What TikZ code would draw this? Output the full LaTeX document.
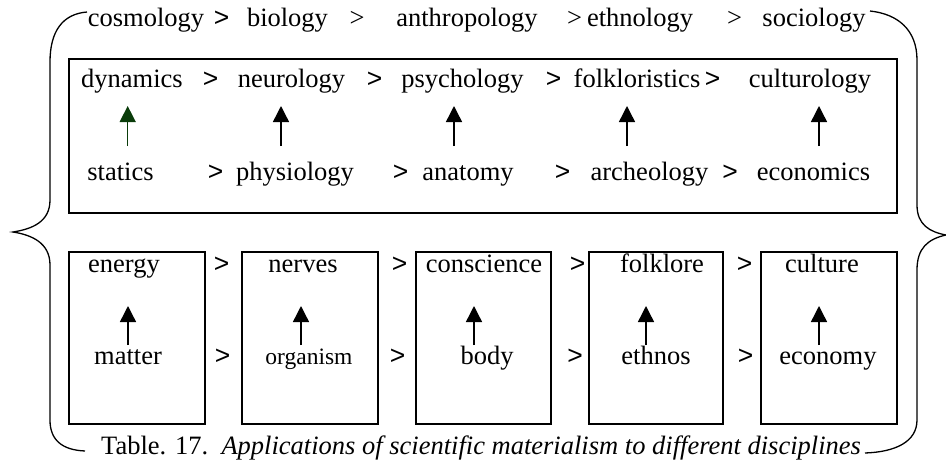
\documentclass[tikz,border=0pt]{standalone}
\usepackage{fontspec}
\setmainfont{Liberation Serif}
\newfontfamily\arialfont{Liberation Sans}
\usetikzlibrary{arrows.meta}
\definecolor{darkgreen}{RGB}{10,60,10}
\begin{document}
\begin{tikzpicture}[x=1pt,y=-1pt,
  every node/.style={font=\fontsize{26.5}{30}\selectfont, inner sep=0pt, anchor=base},
  gta/.style={font=\fontsize{26.5}{30}\selectfont\arialfont},
  smalltxt/.style={font=\fontsize{23.5}{28}\selectfont},
  uparrow/.style={line width=1.4pt, -{Triangle[width=16pt,length=16pt]}},
  boxline/.style={draw, line width=1.5pt},
  brace/.style={line width=1.3pt}]
\useasboundingbox (0,0) rectangle (946,461);

% braces
\draw[brace] (87,12) .. controls (62,14) and (50,32) .. (50,62) -- (50,200)
  .. controls (50,222) and (32,229) .. (13,232)
  .. controls (32,235) and (50,243) .. (50,265) -- (50,420)
  .. controls (50,440) and (62,450) .. (85,451);
\draw[brace] (870,11) .. controls (898,14) and (917,30) .. (917,60) -- (917,205)
  .. controls (917,225) and (930,232) .. (946,235)
  .. controls (928,239) and (917,248) .. (917,270) -- (917,420)
  .. controls (917,442) and (895,452) .. (865,453);

% top row
\node (cosm) at (146,26) {cosmology};
\node[gta] (t1) at (221.5,26) {>};
\node (biol) at (287.5,26) {biology};
\node (t2) at (357,26) {>};
\node (anth) at (467,26) {anthropology};
\node (t3) at (574.5,26) {>};
\node (ethn) at (640,26) {ethnology};
\node (t4) at (734.5,26) {>};
\node (soci) at (814,26) {sociology};

% top box
\draw[boxline, line width=1.8pt] (69,59) rectangle (897,213);
\node (dyn) at (132,87) {dynamics};
\node[gta] (m1) at (210.5,87) {>};
\node (neur) at (291.5,87) {neurology};
\node[gta] (m2) at (374.5,87) {>};
\node (psyc) at (462.5,87) {psychology};
\node[gta] (m3) at (553.5,87) {>};
\node (folk) at (637,87) {folkloristics};
\node[gta] (m4) at (712.5,87) {>};
\node (cult) at (810,87) {culturology};

\node (stat) at (120.5,180) {statics};
\node[gta] (n1) at (215.5,180) {>};
\node (phys) at (295,180) {physiology};
\node[gta] (n2) at (400.5,180) {>};
\node (anat) at (468,180) {anatomy};
\node[gta] (n3) at (562.5,180) {>};
\node (arch) at (649.5,180) {archeology};
\node[gta] (n4) at (730,180) {>};
\node (econ) at (813.5,180) {economics};

\coordinate (a1s) at (127.7,146); \coordinate (a1e) at (127.7,106);
\coordinate (a2s) at (281,146);   \coordinate (a2e) at (281,106);
\coordinate (a3s) at (454,146);   \coordinate (a3e) at (454,106);
\coordinate (a4s) at (627,146);   \coordinate (a4e) at (627,106);
\coordinate (a5s) at (819,146);   \coordinate (a5e) at (819,106);
\draw[uparrow, darkgreen] (a1s) -- (a1e);
\draw[uparrow] (a2s) -- (a2e);
\draw[uparrow] (a3s) -- (a3e);
\draw[uparrow] (a4s) -- (a4e);
\draw[uparrow] (a5s) -- (a5e);

% bottom boxes
\draw[boxline] (69,252) rectangle (205,424);
\draw[boxline] (242,252) rectangle (378,424);
\draw[boxline] (416,252) rectangle (551,424);
\draw[boxline] (589,252) rectangle (723,424);
\draw[boxline] (761,252) rectangle (897,424);

\node (ener) at (124,272) {energy};
\node (nerv) at (303,272) {nerves};
\node (cons) at (484,272) {conscience};
\node (fklr) at (662,272) {folklore};
\node (cltr) at (822,272) {culture};
\node (matt) at (128,364) {matter};
\node[smalltxt] (orga) at (309,364) {organism};
\node (body) at (487,364) {body};
\node (etno) at (656,364) {ethnos};
\node (ecny) at (828,364) {economy};

\node[gta] (b1) at (221.5,272) {>};
\node[gta] (b2) at (399.5,272) {>};
\node[gta] (b3) at (577.5,272) {>};
\node[gta] (b4) at (744.5,272) {>};
\node[gta] (c1) at (222.5,364) {>};
\node[gta] (c2) at (397.5,364) {>};
\node[gta] (c3) at (575,364) {>};
\node[gta] (c4) at (745.5,364) {>};

\coordinate (b1s) at (128,345); \coordinate (b1e) at (128,306);
\coordinate (b2s) at (301,345); \coordinate (b2e) at (301,306);
\coordinate (b3s) at (474,345); \coordinate (b3e) at (474,306);
\coordinate (b4s) at (646,345); \coordinate (b4e) at (646,306);
\coordinate (b5s) at (819,345); \coordinate (b5e) at (819,306);
\draw[uparrow] (b1s) -- (b1e);
\draw[uparrow] (b2s) -- (b2e);
\draw[uparrow] (b3s) -- (b3e);
\draw[uparrow] (b4s) -- (b4e);
\draw[uparrow] (b5s) -- (b5e);

% caption
\node[anchor=base west] (capt) at (101,454) {Table. 17.\ \ \textit{Applications of scientific materialism to different disciplines}};
\end{tikzpicture}
\end{document}
